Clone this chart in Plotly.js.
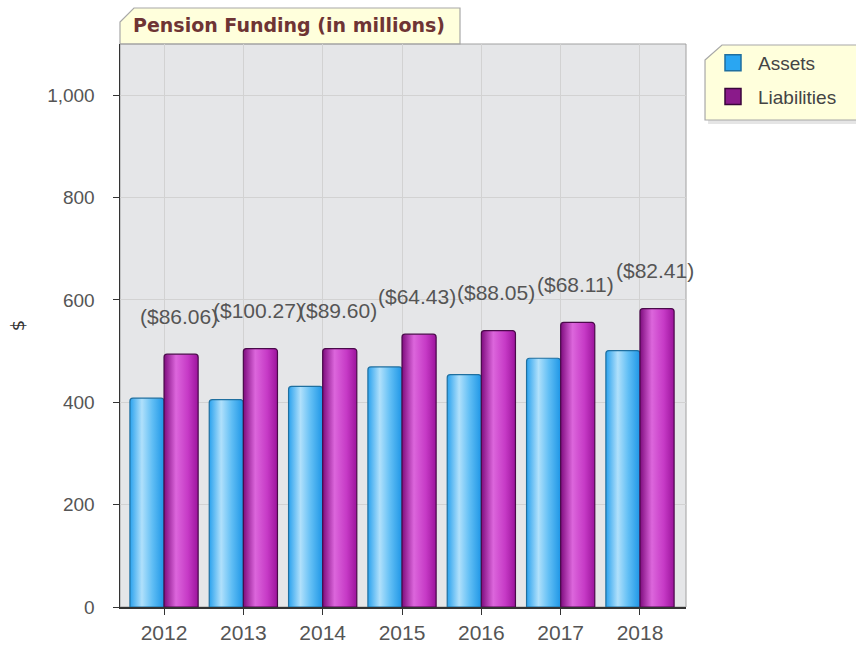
<!DOCTYPE html>
<html><head><meta charset="utf-8">
<script src="https://cdn.plot.ly/plotly-3.0.1.min.js"></script>
<style>html,body{margin:0;padding:0;background:#fff}#chart{width:856px;height:645px}</style>
</head><body><div id="chart"></div>
<script>
const years = ['2012','2013','2014','2015','2016','2017','2018'];
const assets = [408, 405, 431, 469, 454, 486, 501];
const liabilities = [494, 505, 505, 533, 540, 556, 583];
const gapLabels = ['($86.06)','($100.27)','($89.60)','($64.43)','($88.05)','($68.11)','($82.41)'];
const yTicks = [0, 200, 400, 600, 800, 1000];

// pixel -> paper helpers for decorations
const L = 120, R = 686, T = 44, B = 607;
const px = x => (x - L) / (R - L);
const py = y => (B - y) / (B - T);
const path = pts => 'M' + pts.map(p => px(p[0]).toFixed(4) + ',' + py(p[1]).toFixed(4)).join('L') + 'Z';

const labelFont = {family: 'Liberation Sans, Arial, sans-serif', size: 21, color: '#555555'};

const traces = [
  {type: 'bar', name: 'Assets', x: years, y: assets, showlegend: false,
   marker: {color: '#4FB3F2', line: {color: '#1F6F9F', width: 1.2}}},
  {type: 'bar', name: 'Liabilities', x: years, y: liabilities, showlegend: false,
   marker: {color: '#B93AB9', line: {color: '#4A0A4A', width: 1.2}}},
  {type: 'scatter', mode: 'markers', name: 'Assets', x: [years[0]], y: [null], legendgroup: 'a',
   marker: {symbol: 'square', size: 16, color: '#2AA6F2', line: {color: '#1F6F9F', width: 1.5}}},
  {type: 'scatter', mode: 'markers', name: 'Liabilities', x: [years[0]], y: [null], legendgroup: 'b',
   marker: {symbol: 'square', size: 16, color: '#8A1A8A', line: {color: '#3A063A', width: 1.5}}}
];

// gap labels anchored at each category index (category axis position) above the liabilities bar
const annotations = years.map((yr, i) => ({
  x: i, y: liabilities[i], xref: 'x', yref: 'y', text: gapLabels[i], showarrow: false,
  xshift: 15, yshift: 38, font: labelFont
}));
annotations.push({
  xref: 'paper', yref: 'paper', x: px(131), y: py(25), xanchor: 'left', yanchor: 'middle',
  text: '<b>Pension Funding (in millions)</b>', showarrow: false,
  font: {family: 'DejaVu Sans, Verdana, sans-serif', size: 19, color: '#6E3434'}
});

const shapes = [
  {type: 'path', xref: 'paper', yref: 'paper', layer: 'below',
   path: path([[708, 63], [725, 48], [860, 48], [860, 124], [708, 124]]),
   fillcolor: 'rgba(0,0,0,0.10)', line: {width: 0}},
  {type: 'path', xref: 'paper', yref: 'paper', layer: 'below',
   path: path([[705, 60], [722, 45], [858, 45], [858, 120], [705, 120]]),
   fillcolor: '#FFFFDC', line: {color: '#A8A8A8', width: 1.2}},
  {type: 'path', xref: 'paper', yref: 'paper', layer: 'below',
   path: path([[120, 44], [120, 22], [134, 8], [460, 8], [460, 44]]),
   fillcolor: '#FFFFDC', line: {color: '#A8A8A8', width: 1.2}},
  {type: 'rect', xref: 'paper', yref: 'paper', x0: 0, x1: 1, y0: 0, y1: 1, layer: 'below',
   line: {color: '#A0A0A0', width: 1}}
];

const layout = {
  width: 856, height: 645,
  margin: {l: L, r: 856 - R, t: T, b: 645 - B},
  paper_bgcolor: '#ffffff', plot_bgcolor: '#E5E6E8',
  barmode: 'group', bargap: 0.14, bargroupgap: 0, barcornerradius: 3,
  showlegend: true,
  legend: {x: px(708), y: py(44), xanchor: 'left', yanchor: 'top',
           bgcolor: 'rgba(0,0,0,0)', borderwidth: 0, tracegroupgap: 6,
           traceorder: 'grouped', itemwidth: 40,
           font: {family: 'Liberation Sans, Arial, sans-serif', size: 19, color: '#444444'}},
  xaxis: {type: 'category', categoryorder: 'array', categoryarray: years, range: [-0.555, 6.58],
          showgrid: true, gridcolor: '#D2D2D2', gridwidth: 1,
          showline: true, linecolor: '#333333', linewidth: 1.5,
          ticks: 'outside', ticklen: 6, tickcolor: '#333333',
          tickfont: {family: 'Liberation Sans, Arial, sans-serif', size: 21, color: '#555555'},
          fixedrange: true},
  yaxis: {range: [0, 1100], tickvals: yTicks, tickformat: ',',
          showgrid: true, gridcolor: '#D2D2D2', gridwidth: 1, zeroline: false,
          showline: true, linecolor: '#333333', linewidth: 1.5,
          ticks: 'outside', ticklen: 6, tickcolor: '#333333', ticklabelstandoff: 14,
          tickfont: {family: 'Liberation Sans, Arial, sans-serif', size: 19, color: '#555555'},
          title: {text: '$', standoff: 18, font: {family: 'DejaVu Sans, sans-serif', size: 18, color: '#333333'}},
          fixedrange: true},
  annotations: annotations,
  shapes: shapes
};

Plotly.newPlot('chart', traces, layout, {displayModeBar: false, staticPlot: true}).then(gd => {
  const svg = gd.querySelector('svg.main-svg');
  const ns = 'http://www.w3.org/2000/svg';
  let defs = svg.querySelector('defs');
  const mk = (id, stops) => {
    const g = document.createElementNS(ns, 'linearGradient');
    g.setAttribute('id', id); g.setAttribute('x1', '0'); g.setAttribute('x2', '1');
    g.setAttribute('y1', '0'); g.setAttribute('y2', '0');
    stops.forEach(([o, c]) => {
      const s = document.createElementNS(ns, 'stop');
      s.setAttribute('offset', o); s.setAttribute('stop-color', c); g.appendChild(s);
    });
    defs.appendChild(g);
  };
  mk('gA', [['0', '#2AA2EE'], ['0.35', '#B0E0FB'], ['0.65', '#62BFF5'], ['1', '#1E96E6']]);
  mk('gL', [['0', '#7E0C7E'], ['0.35', '#DC66DC'], ['0.7', '#C63AC6'], ['1', '#9C149C']]);
  const tr = gd.querySelectorAll('.barlayer .trace');
  const ids = ['gA', 'gL'];
  tr.forEach((t, i) => {
    t.querySelectorAll('path').forEach(p => { p.style.fill = 'url(#' + ids[i] + ')'; });
  });
});
</script></body></html>
